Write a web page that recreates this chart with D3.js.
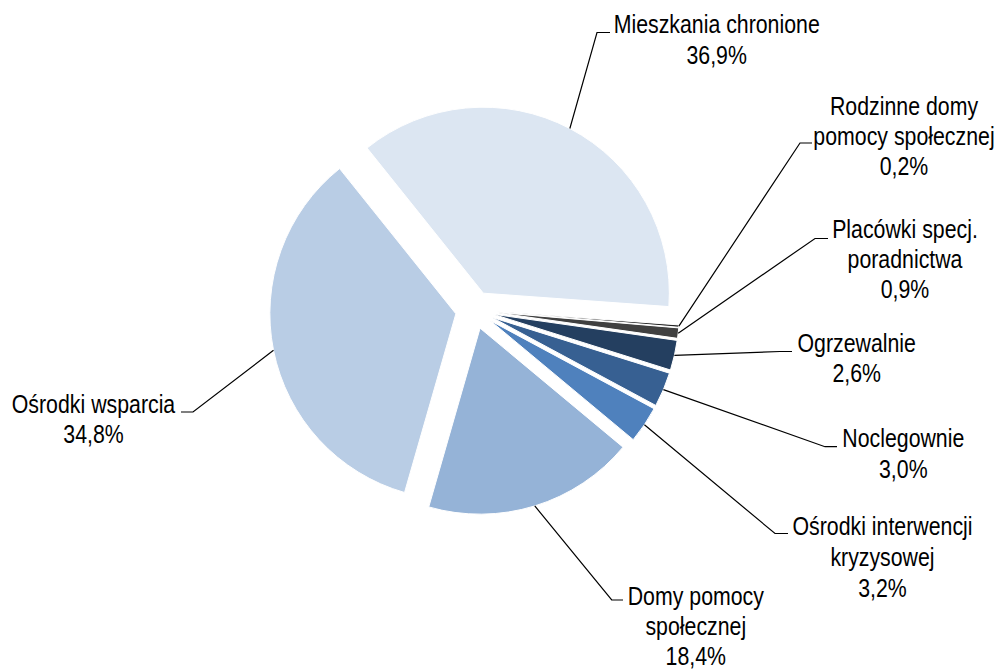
<!DOCTYPE html>
<html>
<head>
<meta charset="utf-8">
<script src="https://cdn.jsdelivr.net/npm/d3@7"></script>
<style>
  html, body { margin: 0; padding: 0; background: #fff; }
  svg { display: block; }
</style>
</head>
<body>
<svg id="chart" width="1003" height="671"></svg>
<script>
// ---- data ----
const categories = [
  "Mieszkania chronione",
  "Rodzinne domy pomocy społecznej",
  "Placówki specj. poradnictwa",
  "Ogrzewalnie",
  "Noclegownie",
  "Ośrodki interwencji kryzysowej",
  "Domy pomocy społecznej",
  "Ośrodki wsparcia"
];
const labelLines = [
  ["Mieszkania chronione"],
  ["Rodzinne domy", "pomocy społecznej"],
  ["Placówki specj.", "poradnictwa"],
  ["Ogrzewalnie"],
  ["Noclegownie"],
  ["Ośrodki interwencji", "kryzysowej"],
  ["Domy pomocy", "społecznej"],
  ["Ośrodki wsparcia"]
];
const values = [36.9, 0.2, 0.9, 2.6, 3.0, 3.2, 18.4, 34.8];
const colors = ["#DCE6F2", "#262626", "#404040", "#243F60", "#376092", "#4F81BD", "#95B3D7", "#B9CDE5"];

// ---- layout (label anchor: centre x, first baseline y; leader elbow and horizontal end) ----
const labelLayout = [
  {x: 716.7, y: 33,  ex: 597,   ey: 32.5,  hx: 610},
  {x: 904,   y: 115, ex: 800,   ey: 143,   hx: 812},
  {x: 905,   y: 238, ex: 815,   ey: 238.5, hx: 828},
  {x: 856.7, y: 352, ex: 780,   ey: 351.5, hx: 792},
  {x: 903.3, y: 447, ex: 825,   ey: 446.7, hx: 837},
  {x: 882.5, y: 535, ex: 775,   ey: 533.5, hx: 788},
  {x: 695.8, y: 605, ex: 611.7, ey: 600,   hx: 623},
  {x: 93.5,  y: 413, ex: 193,   ey: 412,   hx: 181}
];

const cx = 474.5, cy = 310, radius = 186, explode = 19;
const fontSize = 26;

const locale = d3.formatLocale({decimal: ",", thousands: " ", grouping: [3], currency: ["", " zł"]});
const fmt = v => locale.format(".1f")(v) + "%";

const svg = d3.select("#chart");
const g = svg.append("g").attr("transform", `translate(${cx},${cy})`);

const startDeg = -38.7;
const pie = d3.pie().sort(null).value(d => d)
  .startAngle(startDeg * Math.PI / 180)
  .endAngle(startDeg * Math.PI / 180 + 2 * Math.PI);
const arcs = pie(values);
const arc = d3.arc().innerRadius(0).outerRadius(radius);

const mid = d => (d.startAngle + d.endAngle) / 2;

g.selectAll("path.slice")
  .data(arcs)
  .join("path")
  .attr("class", "slice")
  .attr("d", arc)
  .attr("fill", (d, i) => colors[i])
  .attr("stroke", "#fff")
  .attr("stroke-width", 1)
  .attr("transform", d => `translate(${explode * Math.sin(mid(d))},${-explode * Math.cos(mid(d))})`);

// leader lines
const leaderR = radius + explode;
svg.selectAll("polyline.leader")
  .data(arcs)
  .join("polyline")
  .attr("class", "leader")
  .attr("fill", "none")
  .attr("stroke", "#000")
  .attr("stroke-width", 1.2)
  .attr("points", (d, i) => {
    const a = mid(d);
    const sx = cx + leaderR * Math.sin(a), sy = cy - leaderR * Math.cos(a);
    const L = labelLayout[i];
    return `${sx},${sy} ${L.ex},${L.ey} ${L.hx},${L.ey}`;
  });

// detect narrow font availability
const narrowFam = "'Liberation Sans Narrow', 'Arial Narrow'";
const probe = svg.append("text").attr("font-size", 26).attr("font-family", "'Liberation Sans', Arial").text("Mieszkania chronione");
const wideW = probe.node().getComputedTextLength();
probe.attr("font-family", narrowFam + ", 'Liberation Sans'");
const narrowW = probe.node().getComputedTextLength();
probe.remove();
const haveNarrow = narrowW < wideW * 0.93;

const lineGaps = [31, 30, 30, 30, 31, 31, 30, 30];

const labels = svg.selectAll("g.label")
  .data(arcs)
  .join("g")
  .attr("class", "label")
  .attr("transform", (d, i) => `translate(${labelLayout[i].x},${labelLayout[i].y})` + (haveNarrow ? "" : " scale(0.82,1)"));

labels.each(function(d, i) {
  const lines = labelLines[i].concat([fmt(values[i])]);
  const t = d3.select(this).append("text")
    .attr("text-anchor", "middle")
    .attr("font-family", haveNarrow ? narrowFam + ", 'Liberation Sans', sans-serif" : "'Liberation Sans', Arial, sans-serif")
    .attr("font-size", fontSize)
    .attr("fill", "#000");
  lines.forEach((s, k) => {
    t.append("tspan").attr("x", 0).attr("y", k * lineGaps[i]).text(s);
  });
});
</script>
</body>
</html>
